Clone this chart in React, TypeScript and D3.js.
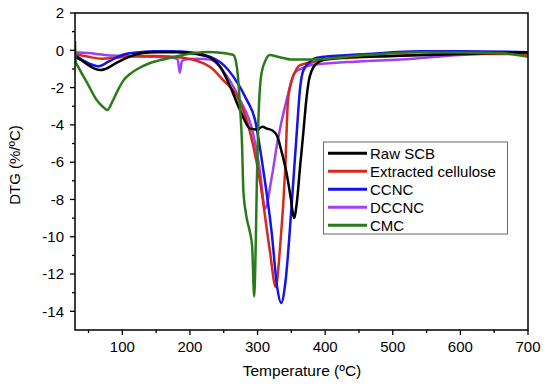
import React from "react";
import * as d3 from "d3";

const rawT = [30, 38, 50, 60, 67, 75, 90, 110, 130, 150, 180, 210, 230, 245, 259, 274, 289, 300, 307, 314, 322, 329, 336, 343, 349, 354, 358, 363, 368, 372, 376, 380, 385, 400, 450, 500, 600, 700];
const rawV = [-0.35, -0.5, -0.8, -1.0, -1.06, -1.0, -0.7, -0.35, -0.15, -0.1, -0.1, -0.2, -0.4, -0.9, -1.9, -3.2, -4.2, -4.25, -4.1, -4.2, -4.3, -4.6, -5.5, -6.6, -7.9, -9.0, -8.2, -6.2, -4.3, -2.7, -1.6, -1.1, -0.8, -0.5, -0.35, -0.3, -0.2, -0.1];

const redT = [30, 50, 70, 90, 120, 150, 190, 230, 249, 270, 289, 304, 318, 327, 333, 341, 345, 350, 355, 363, 380, 400, 500, 600, 700];
const redV = [-0.2, -0.35, -0.45, -0.4, -0.3, -0.3, -0.4, -0.9, -1.6, -2.5, -4.4, -7.1, -10.7, -12.7, -10.7, -6.3, -2.7, -1.7, -1.2, -0.8, -0.65, -0.5, -0.3, -0.2, -0.2];

const blueT = [30, 45, 65, 80, 100, 125, 150, 173, 200, 230, 250, 264, 284, 296, 308, 321, 329, 335, 341, 351, 358, 363, 367, 375, 388, 462, 540, 600, 700];
const blueV = [-0.25, -0.6, -0.85, -0.6, -0.25, -0.1, -0.05, -0.05, -0.1, -0.35, -0.8, -1.4, -2.66, -3.7, -6.3, -9.8, -12.7, -13.55, -12.5, -8.0, -4.4, -2.0, -1.16, -0.7, -0.4, -0.2, -0.05, -0.05, -0.1];

const purpleT = [30, 50, 74, 100, 140, 175, 182, 185, 188, 192, 210, 230, 255, 274, 293, 304, 311, 321, 330, 343, 355, 367, 378, 450, 511, 600, 700];
const purpleV = [-0.1, -0.15, -0.25, -0.3, -0.35, -0.4, -0.5, -1.2, -0.6, -0.5, -0.45, -0.5, -1.4, -2.66, -4.4, -6.6, -8.5, -6.8, -4.8, -2.66, -1.2, -0.95, -0.8, -0.6, -0.5, -0.25, -0.1];

const greenT = [30, 31, 35, 48, 62, 72, 78, 86, 94, 102, 112, 125, 141, 165, 190, 225, 249, 258, 264, 268, 271, 274, 277, 279, 283, 289, 292, 295, 297, 299, 301, 304, 308, 311, 318, 330, 352, 378, 462, 540, 658, 700];
const greenV = [0.5, -0.6, -0.9, -1.75, -2.66, -3.05, -3.2, -2.7, -2.1, -1.6, -1.25, -0.95, -0.68, -0.45, -0.25, -0.09, -0.15, -0.2, -0.25, -0.6, -1.4, -3.0, -5.0, -7.5, -8.8, -9.8, -10.5, -13.2, -11.0, -7.0, -4.0, -1.8, -0.9, -0.6, -0.25, -0.35, -0.5, -0.5, -0.25, -0.1, -0.15, -0.35];

const seriesNames = ["Raw SCB", "Extracted cellulose", "CCNC", "DCCNC", "CMC"];
const seriesColors = ["#000000", "#d42a1e", "#1414e6", "#a040f0", "#2a7a1a"];
const seriesT = [rawT, redT, blueT, purpleT, greenT];
const seriesV = [rawV, redV, blueV, purpleV, greenV];
const drawOrder = [3, 1, 2, 0, 4];

const xMajor = [100, 200, 300, 400, 500, 600, 700];
const xMinor = [50, 150, 250, 350, 450, 550, 650];
const yMajor = [2, 0, -2, -4, -6, -8, -10, -12, -14];
const yMinor = [1, -1, -3, -5, -7, -9, -11, -13];

export default function App() {
  const W = 550, H = 386;
  const left = 75, right = 528, top = 13, bottom = 330;
  const x = d3.scaleLinear().domain([30, 700]).range([left, right]);
  const y = d3.scaleLinear().domain([-15, 2]).range([bottom, top]);
  const font = "Liberation Sans, Arial, sans-serif";

  const line = d3
    .line<[number, number]>()
    .x((d) => x(d[0]))
    .y((d) => y(d[1]))
    .curve(d3.curveMonotoneX);

  return (
    <svg width={W} height={H} style={{ position: "absolute", left: 0, top: 0, background: "#fff" }}>
      <defs>
        <clipPath id="plotclip">
          <rect x={left} y={top} width={right - left} height={bottom - top} />
        </clipPath>
      </defs>
      <rect x={0} y={0} width={W} height={H} fill="#fff" />
      <g clipPath="url(#plotclip)">
        {drawOrder.map((i) => {
          const pts = seriesT[i].map((t, k) => [t, seriesV[i][k]] as [number, number]);
          return (
            <path
              key={i}
              d={line(pts) || ""}
              fill="none"
              stroke={seriesColors[i]}
              strokeWidth={2.5}
              strokeLinejoin="round"
            />
          );
        })}
      </g>
      <rect x={left} y={top} width={right - left} height={bottom - top} fill="none" stroke="#000" strokeWidth={1.5} />
      {xMajor.map((v) => (
        <g key={"xM" + v}>
          <line x1={x(v)} x2={x(v)} y1={bottom} y2={bottom + 5} stroke="#000" strokeWidth={1.3} />
          <text x={x(v)} y={bottom + 22} textAnchor="middle" fontFamily={font} fontSize={15} fill="#000">
            {v}
          </text>
        </g>
      ))}
      {xMinor.map((v) => (
        <line key={"xm" + v} x1={x(v)} x2={x(v)} y1={bottom} y2={bottom + 3} stroke="#000" strokeWidth={1.3} />
      ))}
      {yMajor.map((v) => (
        <g key={"yM" + v}>
          <line x1={left - 5} x2={left} y1={y(v)} y2={y(v)} stroke="#000" strokeWidth={1.3} />
          <text x={left - 11} y={y(v)} dy="0.35em" textAnchor="end" fontFamily={font} fontSize={15} fill="#000">
            {v}
          </text>
        </g>
      ))}
      {yMinor.map((v) => (
        <line key={"ym" + v} x1={left - 3} x2={left} y1={y(v)} y2={y(v)} stroke="#000" strokeWidth={1.3} />
      ))}
      <text x={302} y={376} textAnchor="middle" fontFamily={font} fontSize={15.5} fill="#000">
        Temperature (ºC)
      </text>
      <text
        transform={`translate(20,165) rotate(-90)`}
        textAnchor="middle"
        fontFamily={font}
        fontSize={15}
        fill="#000"
      >
        DTG (%/ºC)
      </text>
      <rect x={323.5} y={142} width={184} height={92} fill="#fff" stroke="#666" strokeWidth={1} />
      {seriesNames.map((name, i) => {
        const ly = 153.3 + i * 18;
        return (
          <g key={name}>
            <line x1={328} x2={367} y1={ly} y2={ly} stroke={seriesColors[i]} strokeWidth={3} />
            <text x={370} y={ly} dy="0.35em" fontFamily={font} fontSize={15} fill="#000">
              {name}
            </text>
          </g>
        );
      })}
    </svg>
  );
}
